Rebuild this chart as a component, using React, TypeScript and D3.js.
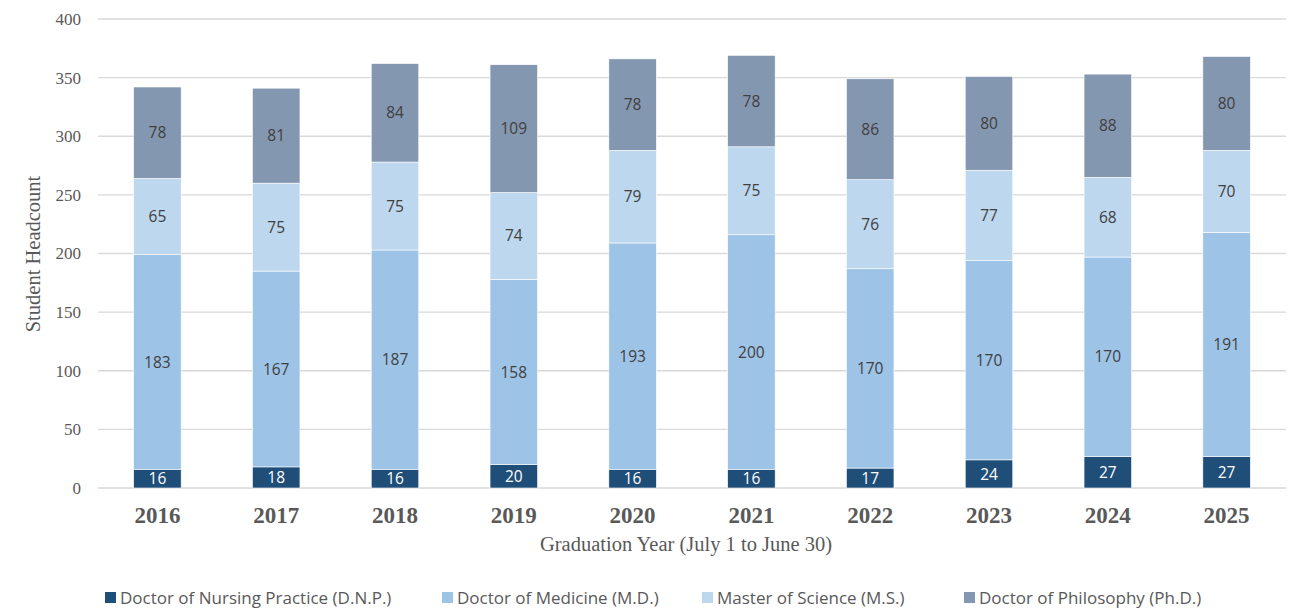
import { useEffect, useRef } from "react"
import * as d3 from "d3"

const years = ["2016", "2017", "2018", "2019", "2020", "2021", "2022", "2023", "2024", "2025"]
const dnp = [16, 18, 16, 20, 16, 16, 17, 24, 27, 27]
const md = [183, 167, 187, 158, 193, 200, 170, 170, 170, 191]
const ms = [65, 75, 75, 74, 79, 75, 76, 77, 68, 70]
const phd = [78, 81, 84, 109, 78, 78, 86, 80, 88, 80]
const yTicks = [0, 50, 100, 150, 200, 250, 300, 350, 400]

const seriesNames = [
  "Doctor of Nursing Practice (D.N.P.)",
  "Doctor of Medicine (M.D.)",
  "Master of Science (M.S.)",
  "Doctor of Philosophy (Ph.D.)",
]
const colors = ["#1F4E79", "#9DC3E6", "#BDD7EE", "#8497B0"]
const labelColors = ["#ffffff", "#404040", "#404040", "#404040"]

export default function App() {
  const svgRef = useRef<SVGSVGElement>(null)
  const width = 1304
  const height = 610

  useEffect(() => {
    if (!svgRef.current) return
    const svg = d3.select(svgRef.current)
    svg.selectAll("*").remove()

    const margin = { top: 19, right: 18, bottom: 122, left: 98 }
    const chartWidth = width - margin.left - margin.right
    const chartHeight = height - margin.top - margin.bottom

    const rows = years.map((y, i) => ({ year: y, s0: dnp[i], s1: md[i], s2: ms[i], s3: phd[i] }))
    const stack = d3.stack<any>().keys(["s0", "s1", "s2", "s3"])(rows)

    const x = d3.scaleBand().domain(years).range([0, chartWidth]).paddingInner(0.6).paddingOuter(0.3)
    const y = d3.scaleLinear().domain([0, 400]).range([chartHeight, 0])

    const chart = svg.append("g").attr("transform", `translate(${margin.left},${margin.top})`)

    // gridlines
    chart.selectAll("line.grid").data(yTicks).enter().append("line")
      .attr("x1", 0).attr("x2", chartWidth)
      .attr("y1", d => y(d)).attr("y2", d => y(d))
      .attr("stroke", "#d9d9d9").attr("stroke-width", 1.3)

    // y tick labels
    chart.selectAll("text.ytick").data(yTicks).enter().append("text")
      .attr("x", -17).attr("y", d => y(d)).attr("dy", "0.35em")
      .attr("text-anchor", "end")
      .attr("font-family", "Liberation Serif, serif").attr("font-size", 17)
      .attr("fill", "#595959")
      .text(d => d)

    // bars
    stack.forEach((layer, si) => {
      const g = chart.append("g")
      g.selectAll("rect").data(layer).enter().append("rect")
        .attr("x", (d: any) => x(d.data.year) as number)
        .attr("width", x.bandwidth())
        .attr("y", (d: any) => y(d[1]))
        .attr("height", (d: any) => y(d[0]) - y(d[1]))
        .attr("fill", colors[si])
        .attr("stroke", "#ffffff").attr("stroke-width", 0.6)
      g.selectAll("text").data(layer).enter().append("text")
        .attr("x", (d: any) => (x(d.data.year) as number) + x.bandwidth() / 2)
        .attr("y", (d: any) => (y(d[0]) + y(d[1])) / 2)
        .attr("dy", "0.36em")
        .attr("text-anchor", "middle")
        .attr("font-family", "'Open Sans', sans-serif").attr("font-size", 15.5)
        .attr("fill", labelColors[si])
        .text((d: any) => d[1] - d[0])
    })

    // x labels
    chart.selectAll("text.xtick").data(years).enter().append("text")
      .attr("x", d => (x(d) as number) + x.bandwidth() / 2)
      .attr("y", chartHeight + 35)
      .attr("text-anchor", "middle")
      .attr("font-family", "Liberation Serif, serif").attr("font-size", 23)
      .attr("font-weight", "bold").attr("fill", "#595959")
      .text(d => d)

    // axis titles
    svg.append("text")
      .attr("x", 686).attr("y", 551)
      .attr("text-anchor", "middle")
      .attr("font-family", "Liberation Serif, serif").attr("font-size", 20.5)
      .attr("fill", "#595959")
      .text("Graduation Year (July 1 to June 30)")

    svg.append("text")
      .attr("transform", `translate(40, 254) rotate(-90)`)
      .attr("text-anchor", "middle")
      .attr("font-family", "Liberation Serif, serif").attr("font-size", 20.5)
      .attr("fill", "#595959")
      .text("Student Headcount")

    // legend
    const legendX = [105, 442, 702, 964]
    const legend = svg.append("g")
    seriesNames.forEach((name, i) => {
      legend.append("rect")
        .attr("x", legendX[i]).attr("y", 592).attr("width", 11).attr("height", 11)
        .attr("fill", colors[i])
      legend.append("text")
        .attr("x", legendX[i] + 15).attr("y", 598).attr("dy", "0.35em")
        .attr("font-family", "'Open Sans', sans-serif").attr("font-size", 17)
        .attr("fill", "#595959")
        .text(name)
    })
  }, [])

  return (
    <svg
      ref={svgRef}
      width={width}
      height={height}
      style={{ position: "absolute", left: 0, top: 0, background: "#fff" }}
      xmlns="http://www.w3.org/2000/svg"
    ></svg>
  )
}
